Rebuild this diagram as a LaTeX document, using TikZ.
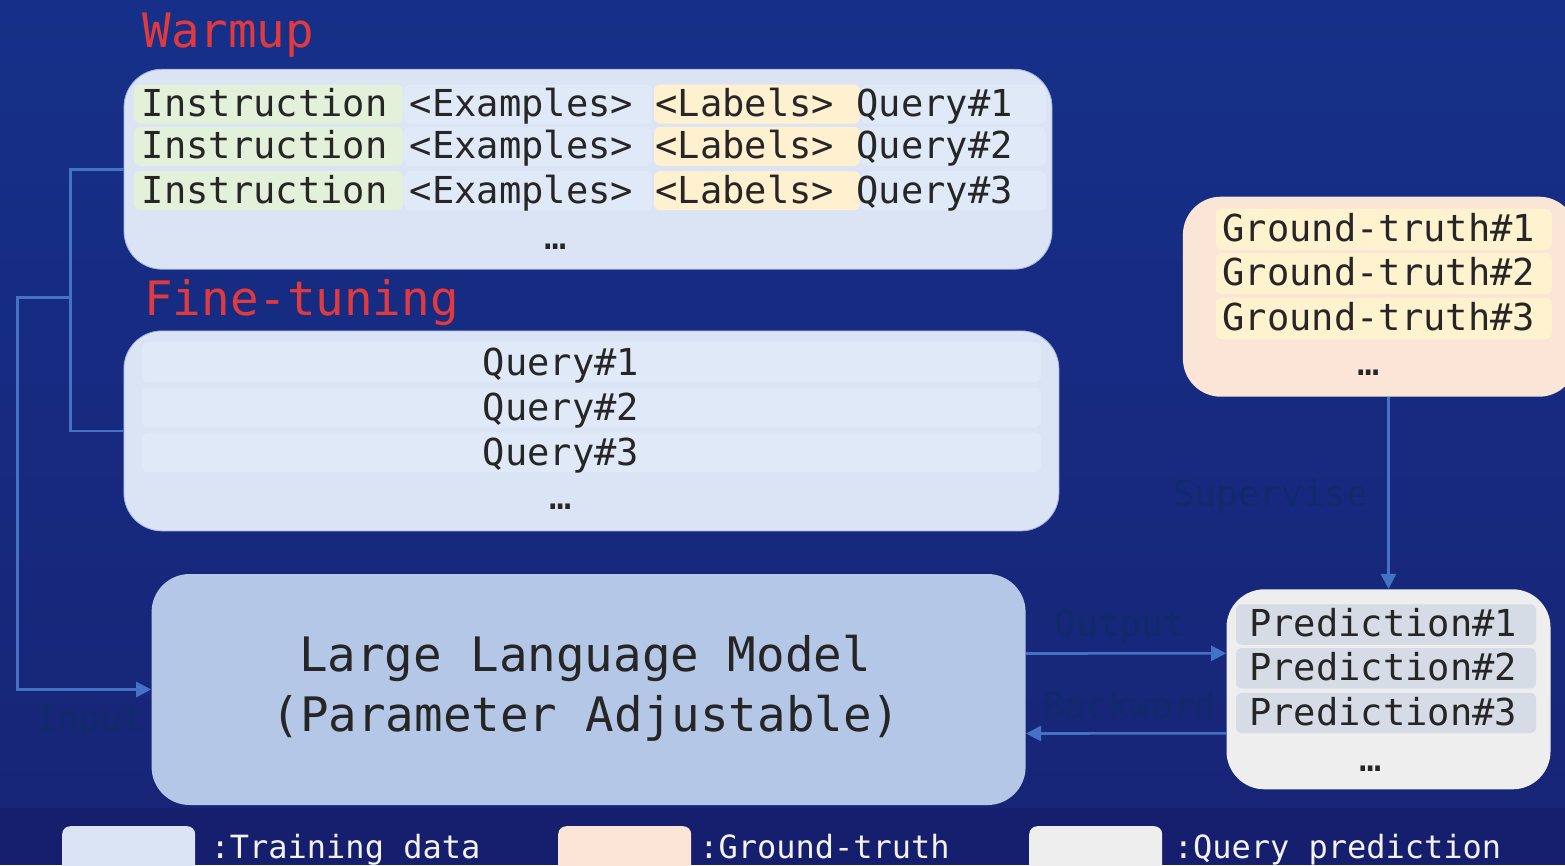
\documentclass[tikz,border=0pt]{standalone}
\usepackage{fontspec}
\setmonofont{DejaVu Sans Mono}
\usetikzlibrary{arrows.meta}

\definecolor{bgtop}{HTML}{163089}
\definecolor{bgbot}{HTML}{172577}
\definecolor{bgstrip}{HTML}{161F6E}
\definecolor{trainfill}{HTML}{DAE4F5}
\definecolor{trainrow}{HTML}{DFE9F7}
\definecolor{instrfill}{HTML}{E3F0DA}
\definecolor{labelfill}{HTML}{FFF1D0}
\definecolor{llmfill}{HTML}{B4C7E7}
\definecolor{gtfill}{HTML}{FBE5D6}
\definecolor{gtrow}{HTML}{FFF2CF}
\definecolor{predfill}{HTML}{EEEEEE}
\definecolor{predrow}{HTML}{D6DCE6}
\definecolor{edgeblue}{HTML}{9FB4E0}
\definecolor{connblue}{HTML}{4472C4}
\definecolor{titlered}{HTML}{E0393E}
\definecolor{darklabel}{HTML}{112A6B}
\definecolor{inktext}{HTML}{262626}
\definecolor{legendtext}{HTML}{F2F2F2}

\newcommand\bodyfont{\ttfamily\fontsize{37.1pt}{40pt}\selectfont}
\newcommand\titlefont{\ttfamily\fontsize{47.5pt}{52pt}\selectfont}
\newcommand\tagfont{\ttfamily\fontsize{36pt}{40pt}\selectfont}
\newcommand\legendfont{\ttfamily\fontsize{32pt}{36pt}\selectfont}

\begin{document}
\begin{tikzpicture}[x=1pt,y=-1pt,
  panel/.style={rounded corners=38pt, inner sep=0pt, draw=edgeblue, line width=0.8pt},
  cell/.style={rounded corners=6pt, inner sep=0pt, minimum height=39pt},
  body/.style={font=\bodyfont, text=inktext, inner sep=0pt, anchor=base},
  title/.style={font=\titlefont, text=titlered, inner sep=0pt, anchor=base},
  tag/.style={font=\tagfont, text=darklabel, inner sep=0pt, anchor=base},
  legendbox/.style={rounded corners=8pt, inner sep=0pt, minimum width=133pt, minimum height=60pt, anchor=north west},
  legendlabel/.style={font=\legendfont, text=legendtext, inner sep=0pt, anchor=base},
  conn/.style={draw=connblue, line width=2.6pt},
  tip/.style={-{Triangle[length=15pt, width=15pt]}}
]
% page and background
\useasboundingbox (0,0) rectangle (1565,865);
\clip (0,0) rectangle (1565,865);
\shade[top color=bgtop, bottom color=bgbot] (0,0) rectangle (1565,808);
\fill[bgstrip] (0,808) rectangle (1565,865);

% section titles
\node[title] (warmtitle) at (228.3,47.7) {Warmup};
\node[title] (finetitle) at (301.5,315) {Fine-tuning};

% warmup prompts
\node[panel, fill=trainfill, minimum width=928pt, minimum height=200pt] (warm) at (588,169.2) {};
\foreach \r/\cy in {1/104, 2/146.3, 3/190.7} {
  \node[cell, fill=instrfill, minimum width=269pt] (wi\r) at (268.5,\cy) {};
  \node[cell, fill=trainrow,  minimum width=248pt] (we\r) at (528.2,\cy) {};
  \node[cell, fill=labelfill, minimum width=206pt] (wl\r) at (757,\cy) {};
  \node[cell, fill=trainrow,  minimum width=185pt] (wq\r) at (953.5,\cy) {};
  \node[body] (wt\r) at (577.3,\cy+12.5) {Instruction <Examples> <Labels> Query\#\r};
}
\node[body] (wdots) at (555.7,249) {…};

% fine-tuning queries
\node[panel, fill=trainfill, minimum width=935pt, minimum height=200pt] (ft) at (591.4,430.9) {};
\foreach \r/\cy in {1/362.3, 2/407.5, 3/452.3} {
  \node[cell, fill=trainrow, minimum width=899pt, minimum height=40pt] (fr\r) at (591.5,\cy) {};
  \node[body] (ftq\r) at (561,\cy+13) {Query\#\r};
}
\node[body] (fdots) at (561,509.5) {…};

% model
\node[panel, draw=none, fill=llmfill, minimum width=874pt, minimum height=231pt] (llm) at (588.6,689.5) {};
\node[title, text=inktext] (llm1) at (585,671.7) {Large Language Model};
\node[title, text=inktext] (llm2) at (586,731.7) {(Parameter Adjustable)};

% ground truth
\node[panel, draw=none, fill=gtfill, minimum width=394pt, minimum height=200pt] (gt) at (1379.9,296.7) {};
\foreach \r/\cy in {1/229.2, 2/273.5, 3/318.5} {
  \node[cell, fill=gtrow, minimum width=336pt, minimum height=41pt] (gr\r) at (1383.8,\cy) {};
  \node[body] (gtt\r) at (1378.7,\cy+12) {Ground-truth\#\r};
}
\node[body] (gdots) at (1368.3,375.5) {…};

% predictions
\node[panel, draw=none, fill=predfill, minimum width=324pt, minimum height=200pt] (pred) at (1388.5,689.3) {};
\foreach \r/\cy in {1/624.5, 2/668.3, 3/713} {
  \node[cell, fill=predrow, minimum width=300pt, minimum height=40.5pt] (pr\r) at (1386,\cy) {};
  \node[body] (prt\r) at (1383,\cy+12.2) {Prediction\#\r};
}
\node[body] (pdots) at (1371,771) {…};

% connectors
\coordinate (bx) at (70.4,297.3);
\draw[conn] (warm.west) -| (bx) |- (ft.west);
\draw[conn, tip] (bx) -| (17.6,500) |- (llm.west);
\draw[conn, tip] (gt.south -| pred.north) -- (pred.north);
\draw[conn, tip] ([yshift=36pt]llm.east) -- ([yshift=36pt]pred.west);
\draw[conn, tip] ([yshift=-44pt]pred.west) -- ([yshift=-44pt]llm.east);

% connector labels
\node[tag] (lin)  at (89.7,731.7) {Input};
\node[tag] (lsup) at (1270.6,506) {Supervise};
\node[tag] (lout) at (1119.8,636.7) {Output};
\node[tag] (lbwd) at (1129.8,718.3) {Backward};

% legend
\node[legendbox, fill=trainfill] (k1) at (62,826) {};
\node[legendlabel] (k1t) at (345.5,858.3) {:Training data};
\node[legendbox, fill=gtfill] (k2) at (558,826) {};
\node[legendlabel] (k2t) at (824.5,858.3) {:Ground-truth};
\node[legendbox, fill=predfill] (k3) at (1029,826) {};
\node[legendlabel] (k3t) at (1337.5,858.3) {:Query prediction};
\end{tikzpicture}
\end{document}
